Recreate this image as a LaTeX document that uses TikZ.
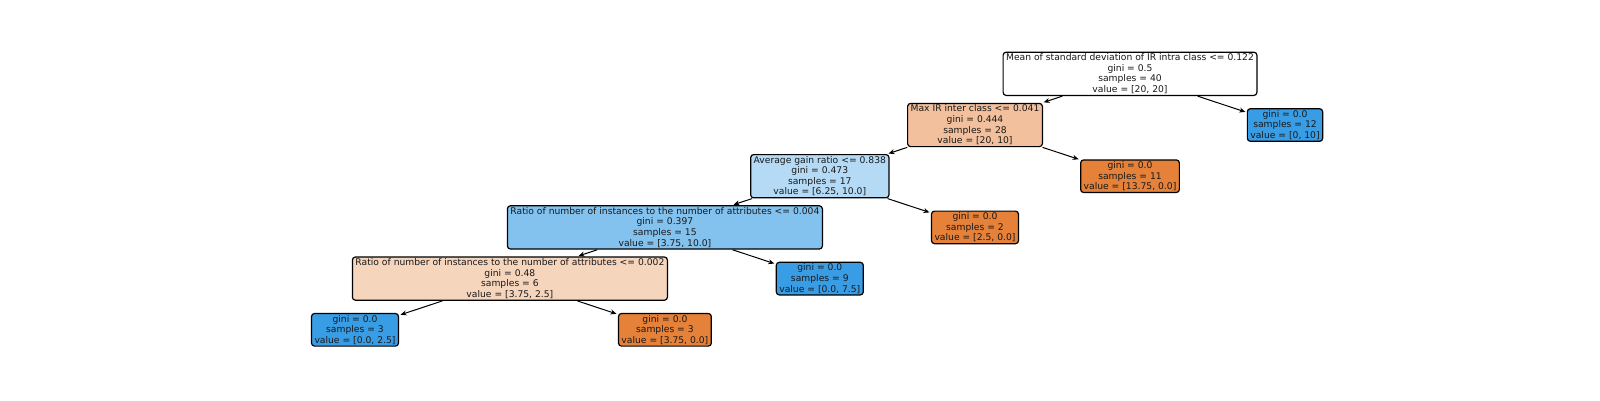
\documentclass[tikz,border=0pt]{standalone}
\usepackage{fontspec}
\setmainfont{DejaVu Sans}
\usetikzlibrary{arrows.meta}
\definecolor{orng}{RGB}{229,129,57}
\definecolor{blu}{RGB}{57,157,229}
\definecolor{c1}{RGB}{242,192,156}
\definecolor{c2}{RGB}{181,218,245}
\definecolor{c3}{RGB}{131,194,239}
\definecolor{c4}{RGB}{246,213,189}
\tikzset{
  tn/.style={draw=black, line width=1.2pt, rounded corners=3pt, align=center,
    inner xsep=3pt, inner ysep=1.6pt, font=\fontsize{9.2}{10.6}\selectfont, text=black!90},
  edge/.style={-{Stealth[length=6pt,width=5pt]}, line width=1pt, shorten >=1.5pt, shorten <=0.5pt}
}
\begin{document}
\begin{tikzpicture}[x=1pt,y=-1pt]
\useasboundingbox (0,0) rectangle (1600,400);
\node[tn, fill=white] (root) at (1130,73.8) {Mean of standard deviation of IR intra class <= 0.122\\gini = 0.5\\samples = 40\\value = [20, 20]};
\node[tn, fill=c1] (max) at (975,125) {Max IR inter class <= 0.041\\gini = 0.444\\samples = 28\\value = [20, 10]};
\node[tn, fill=blu] (l1) at (1285,125) {gini = 0.0\\samples = 12\\value = [0, 10]};
\node[tn, fill=c2] (avg) at (819.8,176.2) {Average gain ratio <= 0.838\\gini = 0.473\\samples = 17\\value = [6.25, 10.0]};
\node[tn, fill=orng] (l2) at (1130,176.2) {gini = 0.0\\samples = 11\\value = [13.75, 0.0]};
\node[tn, fill=c3] (r4) at (664.9,227.4) {Ratio of number of instances to the number of attributes <= 0.004\\gini = 0.397\\samples = 15\\value = [3.75, 10.0]};
\node[tn, fill=orng] (l3) at (975,227.4) {gini = 0.0\\samples = 2\\value = [2.5, 0.0]};
\node[tn, fill=c4] (r2) at (509.9,278.6) {Ratio of number of instances to the number of attributes <= 0.002\\gini = 0.48\\samples = 6\\value = [3.75, 2.5]};
\node[tn, fill=blu] (l4) at (819.8,278.6) {gini = 0.0\\samples = 9\\value = [0.0, 7.5]};
\node[tn, fill=blu] (l5) at (355,329.8) {gini = 0.0\\samples = 3\\value = [0.0, 2.5]};
\node[tn, fill=orng] (l6) at (664.9,329.8) {gini = 0.0\\samples = 3\\value = [3.75, 0.0]};
\draw[edge] (root) -- (max);
\draw[edge] (root) -- (l1);
\draw[edge] (max) -- (avg);
\draw[edge] (max) -- (l2);
\draw[edge] (avg) -- (r4);
\draw[edge] (avg) -- (l3);
\draw[edge] (r4) -- (r2);
\draw[edge] (r4) -- (l4);
\draw[edge] (r2) -- (l5);
\draw[edge] (r2) -- (l6);
\end{tikzpicture}
\end{document}
